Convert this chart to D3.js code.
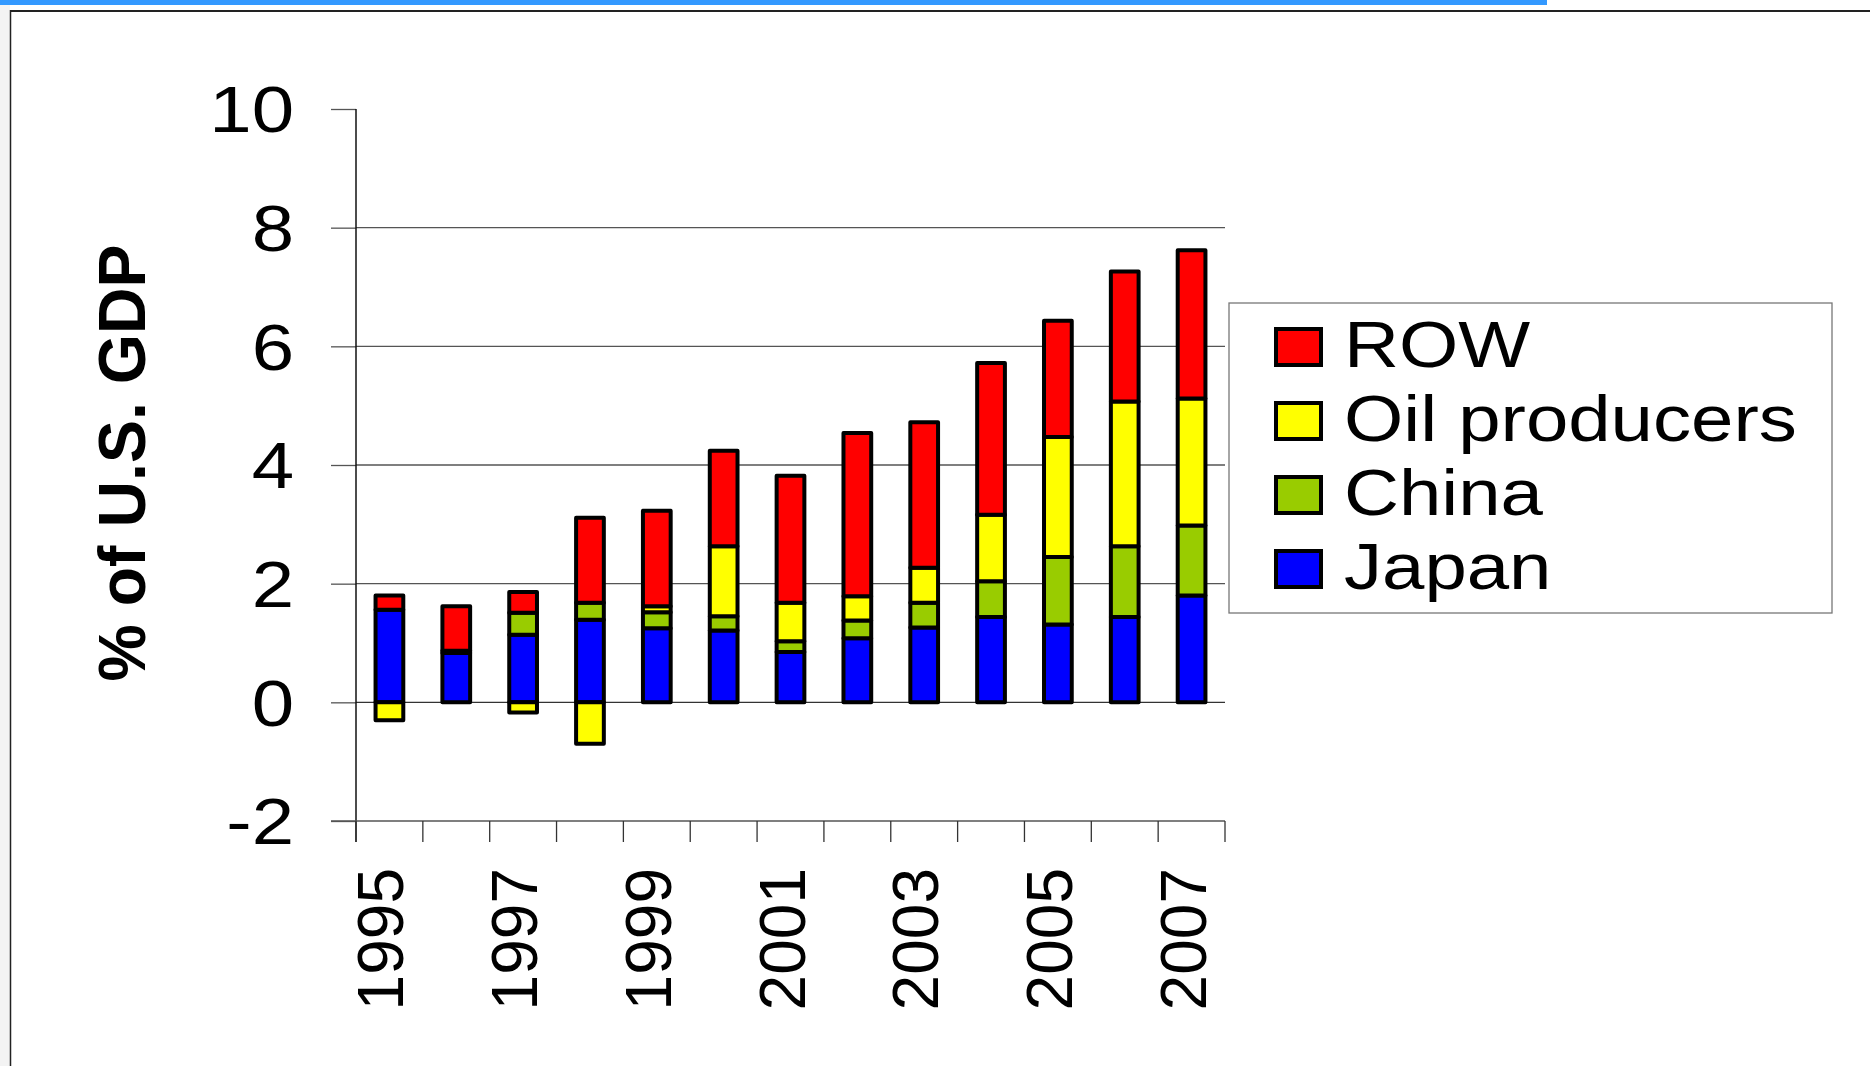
<!DOCTYPE html>
<html>
<head>
<meta charset="utf-8">
<script src="https://cdn.jsdelivr.net/npm/d3@7"></script>
<style>
  html, body { margin: 0; padding: 0; background: #fff; }
  svg { display: block; font-family: "Liberation Sans", Arial, sans-serif; }
</style>
</head>
<body>
<div id="chart"></div>
<script>
// Years on the category axis
const years = [1995, 1996, 1997, 1998, 1999, 2000, 2001, 2002, 2003, 2004, 2005, 2006, 2007];

// Series values, % of U.S. GDP
const japan = [1.56, 0.83, 1.14, 1.39, 1.25, 1.21, 0.85, 1.08, 1.26, 1.44, 1.31, 1.44, 1.80];
const china = [0.00, 0.04, 0.37, 0.29, 0.27, 0.24, 0.18, 0.30, 0.42, 0.60, 1.14, 1.19, 1.18];
const oil   = [-0.30, 0.00, -0.17, -0.70, 0.10, 1.18, 0.65, 0.41, 0.59, 1.12, 2.02, 2.44, 2.14];
const row   = [0.24, 0.75, 0.35, 1.43, 1.61, 1.61, 2.14, 2.75, 2.45, 2.56, 1.96, 2.19, 2.50];

const seriesNames = ['Japan', 'China', 'Oil producers', 'ROW'];
const seriesColors = ['#0000ff', '#99cc00', '#ffff00', '#ff0000'];
const legendOrder = ['ROW', 'Oil producers', 'China', 'Japan'];

const yTicks = [-2, 0, 2, 4, 6, 8, 10];
const gridTicks = [2, 4, 6, 8];
const labelYears = [1995, 1997, 1999, 2001, 2003, 2005, 2007];

const width = 1870;
const height = 1066;
const stretch = 1.19; // the slide text is drawn a bit wide

const svg = d3.select('#chart').append('svg')
    .attr('width', width)
    .attr('height', height);

// Slide background bits: grey strip, blue bar, frame
svg.append('rect').attr('x', 0).attr('y', 0).attr('width', 10).attr('height', height).attr('fill', '#f3f3f3');
svg.append('rect').attr('x', 0).attr('y', 0).attr('width', 1547).attr('height', 5).attr('fill', '#3399ff');
svg.append('line').attr('x1', 10).attr('x2', width).attr('y1', 11).attr('y2', 11)
    .attr('stroke', '#222').attr('stroke-width', 2);
svg.append('line').attr('x1', 10.5).attr('x2', 10.5).attr('y1', 10).attr('y2', height)
    .attr('stroke', '#222').attr('stroke-width', 1.5);

// Build table for stacking
const table = years.map((y, i) => ({
    year: y,
    'Japan': japan[i],
    'China': china[i],
    'Oil producers': oil[i],
    'ROW': row[i]
}));

const x = d3.scaleBand()
    .domain(years)
    .range([356, 1225])
    .padding(0);

const y = d3.scaleLinear()
    .domain([-2, 10])
    .range([821, 109]);

const barW = x.step() * 0.415;

// Gridlines
svg.append('g')
    .selectAll('line')
    .data(gridTicks)
    .join('line')
    .attr('x1', 356)
    .attr('x2', 1225)
    .attr('y1', d => y(d))
    .attr('y2', d => y(d))
    .attr('stroke', '#555')
    .attr('stroke-width', 1.3);

// Zero line
svg.append('line')
    .attr('x1', 356).attr('x2', 1225)
    .attr('y1', y(0)).attr('y2', y(0))
    .attr('stroke', '#333').attr('stroke-width', 1.3);

// Y axis
const yAxis = d3.axisLeft(y)
    .tickValues(yTicks)
    .tickSize(25)
    .tickFormat(d => String(d));

const yAxisG = svg.append('g')
    .attr('transform', 'translate(356,0)')
    .call(yAxis);
yAxisG.select('.domain').remove();
yAxisG.selectAll('.tick line').attr('stroke', '#555').attr('stroke-width', 1.3);
yAxisG.selectAll('.tick text')
    .attr('font-family', '"Liberation Sans", Arial, sans-serif')
    .attr('font-size', 64)
    .attr('fill', '#000')
    .attr('transform', `scale(${stretch},1)`)
    .attr('x', -62 / stretch)
    .attr('dy', '0.355em');

svg.append('line')
    .attr('x1', 356).attr('x2', 356)
    .attr('y1', y(10)).attr('y2', 842)
    .attr('stroke', '#111').attr('stroke-width', 1.5);

// X axis line at -2 and category ticks at band boundaries
svg.append('line')
    .attr('x1', 331).attr('x2', 1225)
    .attr('y1', y(-2)).attr('y2', y(-2))
    .attr('stroke', '#555').attr('stroke-width', 1.3);

const boundaries = years.map(d => x(d)).concat([x(years[years.length - 1]) + x.step()]);
svg.append('g')
    .selectAll('line')
    .data(boundaries)
    .join('line')
    .attr('x1', d => d)
    .attr('x2', d => d)
    .attr('y1', y(-2))
    .attr('y2', 842)
    .attr('stroke', '#333')
    .attr('stroke-width', 1.3);

// Year labels, rotated
svg.append('g')
    .selectAll('text')
    .data(labelYears)
    .join('text')
    .attr('transform', d => `translate(${x(d) + x.step() / 2 + 14},868) rotate(-90)`)
    .attr('text-anchor', 'end')
    .attr('font-size', 64)
    .attr('fill', '#000')
    .text(d => d);

// Stacked bars
const stack = d3.stack()
    .keys(seriesNames)
    .offset(d3.stackOffsetDiverging);
const stacked = stack(table);

const color = d3.scaleOrdinal().domain(seriesNames).range(seriesColors);

svg.append('g')
    .selectAll('g')
    .data(stacked)
    .join('g')
    .attr('fill', d => color(d.key))
    .selectAll('rect')
    .data(d => d.filter(s => s[1] !== s[0]))
    .join('rect')
    .attr('x', d => x(d.data.year) + (x.step() - barW) / 2)
    .attr('width', barW)
    .attr('y', d => y(Math.max(d[0], d[1])))
    .attr('height', d => Math.abs(y(d[0]) - y(d[1])))
    .attr('stroke', '#000')
    .attr('stroke-width', 4)
    .attr('stroke-linejoin', 'round');

// Y axis title
svg.append('text')
    .attr('transform', 'translate(145,463) rotate(-90)')
    .attr('text-anchor', 'middle')
    .attr('font-size', 66)
    .attr('font-weight', 'bold')
    .attr('fill', '#000')
    .attr('textLength', 437)
    .attr('lengthAdjust', 'spacingAndGlyphs')
    .text('% of U.S. GDP');

// Legend
const legend = svg.append('g');
legend.append('rect')
    .attr('x', 1229).attr('y', 303)
    .attr('width', 603).attr('height', 310)
    .attr('fill', '#fff')
    .attr('stroke', '#777')
    .attr('stroke-width', 1.3);

const items = legend.selectAll('g.item')
    .data(legendOrder)
    .join('g')
    .attr('class', 'item')
    .attr('transform', (d, i) => `translate(0,${i * 74})`);

items.append('rect')
    .attr('x', 1276)
    .attr('y', 329)
    .attr('width', 45)
    .attr('height', 36)
    .attr('fill', d => color(d))
    .attr('stroke', '#000')
    .attr('stroke-width', 4);

items.append('text')
    .attr('transform', `translate(1344,367) scale(${stretch},1)`)
    .attr('font-size', 64)
    .attr('fill', '#000')
    .text(d => d);
</script>
</body>
</html>
